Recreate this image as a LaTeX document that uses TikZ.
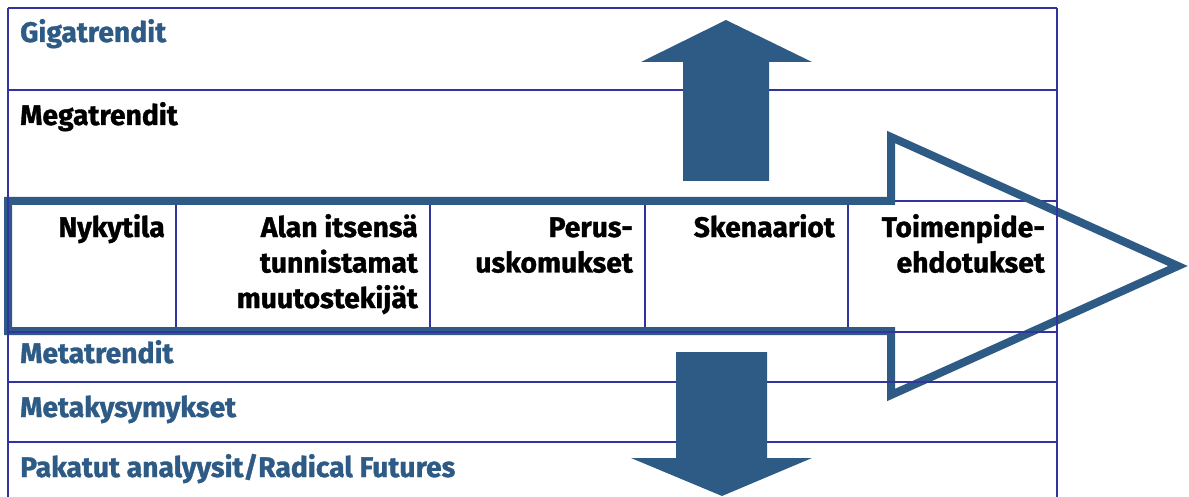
\documentclass[tikz,border=0pt]{standalone}
\usepackage{fontspec}
\setmainfont{Fira Sans}[BoldFeatures={FakeBold=1.2}]
\definecolor{arrowblue}{HTML}{2E5B86}
\definecolor{gridblue}{HTML}{3333A0}
\definecolor{labelblue}{HTML}{2E5B86}
\begin{document}
\begin{tikzpicture}[x=1pt,y=-1pt,
  grid/.style={draw=gridblue, line width=2pt},
  bigarrow/.style={draw=arrowblue, line width=8pt, line join=miter, miter limit=20},
  fillarrow/.style={fill=arrowblue},
  rowlabel/.style={anchor=base west, inner sep=0, font=\bfseries\fontsize{28.3}{35}\selectfont},
  celllabel/.style={anchor=base east, inner sep=0, align=right, font=\bfseries\fontsize{28.3}{35.5}\selectfont}]
\useasboundingbox (0,0) rectangle (1189,497);
% row lines hidden under the arrow body
\draw[grid] (8,201) -- (1057,201);
% big process arrow
\draw[bigarrow] (8,201) -- (891,201) -- (891,137) -- (1178,266) -- (891,395) -- (891,331) -- (8,331) -- cycle;
% table grid
\draw[grid] (8,8) -- (1057,8);
\draw[grid] (8,8) -- (8,497);
\draw[grid] (1057,8) -- (1057,497);
\draw[grid] (8,90) -- (1057,90);
\draw[grid] (8,332) -- (1057,332);
\draw[grid] (8,382) -- (1057,382);
\draw[grid] (8,442) -- (1057,442);
\foreach \x in {176,430,645,848} \draw[grid] (\x,205) -- (\x,327);
% fill arrows
\fill[fillarrow] (683,181) -- (683,62) -- (641,62) -- (726,20) -- (812,62) -- (769,62) -- (769,181) -- cycle;
\fill[fillarrow] (676,352) -- (767,352) -- (767,458) -- (812,458) -- (722,496) -- (631,458) -- (676,458) -- cycle;
% row labels
\node[rowlabel, text=labelblue] (giga) at (20,42) {Gigatrendit};
\node[rowlabel] (mega) at (20,125) {Megatrendit};
\node[rowlabel, text=labelblue] (meta) at (20,363) {Metatrendit};
\node[rowlabel, text=labelblue] (metak) at (20,417) {Metakysymykset};
\node[rowlabel, text=labelblue] (pak) at (20,477) {Pakatut analyysit/Radical Futures};
% cell labels (anchored at the baseline of the last line)
\node[celllabel] (c1) at (165,237) {Nykytila};
\node[celllabel] (c2) at (418,308) {Alan itsensä\\tunnistamat\\muutostekijät};
\node[celllabel] (c3) at (633,272.5) {Perus-\\uskomukset};
\node[celllabel] (c4) at (835,237) {Skenaariot};
\node[celllabel] (c5) at (1045,272.5) {Toimenpide-\\ehdotukset};
\end{tikzpicture}
\end{document}
